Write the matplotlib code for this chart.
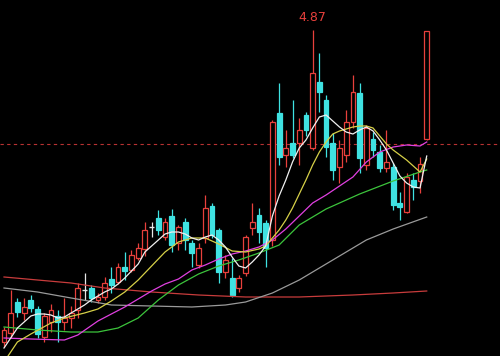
import matplotlib
matplotlib.use("Agg")
import matplotlib.pyplot as plt
import numpy as np

# ---------------- data (prices) ----------------
opens = [1.75, 1.84, 2.15, 2.04, 2.17, 2.08, 1.80, 1.95, 2.01, 1.95,
         1.99, 2.07, 2.27, 2.29, 2.17, 2.20, 2.38, 2.35, 2.50, 2.47,
         2.59, 2.68, 2.90, 2.99, 2.80, 3.01, 2.74, 2.95, 2.74, 2.52,
         2.79, 3.11, 2.87, 2.45, 2.39, 2.29, 2.44, 2.89, 3.02, 2.94,
         2.77, 4.04, 3.62, 3.74, 3.74, 4.02, 3.69, 4.35, 4.17, 3.74,
         3.50, 3.62, 3.95, 4.24, 3.52, 3.78, 3.65, 3.49, 3.50, 3.14,
         3.05, 3.37, 3.36, 3.78]
highs = [1.90, 2.27, 2.19, 2.19, 2.22, 2.11, 2.04, 2.13, 2.07, 2.19,
         2.11, 2.34, 2.44, 2.32, 2.24, 2.40, 2.50, 2.54, 2.65, 2.67,
         2.74, 2.95, 2.95, 3.07, 2.99, 3.08, 2.92, 2.99, 2.77, 2.74,
         3.22, 3.14, 2.89, 2.62, 2.59, 2.42, 2.82, 3.14, 3.09, 2.97,
         3.97, 4.34, 3.87, 4.17, 3.99, 4.05, 4.87, 4.64, 4.22, 3.84,
         3.77, 4.07, 4.42, 4.34, 3.92, 3.85, 3.72, 3.87, 3.54, 3.25,
         3.44, 3.44, 3.60, 4.86]
lows = [1.70, 1.79, 2.00, 1.97, 2.05, 1.79, 1.75, 1.85, 1.75, 1.87,
        1.89, 1.99, 2.17, 2.15, 2.14, 2.17, 2.24, 2.33, 2.37, 2.45,
        2.57, 2.61, 2.80, 2.82, 2.77, 2.65, 2.67, 2.67, 2.50, 2.49,
        2.74, 2.79, 2.34, 2.39, 2.20, 2.25, 2.41, 2.82, 2.74, 2.50,
        2.71, 3.52, 3.50, 3.59, 3.52, 3.81, 3.67, 4.05, 3.60, 3.37,
        3.34, 3.55, 3.89, 3.44, 3.47, 3.60, 3.45, 3.45, 3.07, 2.97,
        3.04, 3.17, 3.24, 3.77]
closes = [1.87, 2.04, 2.05, 2.10, 2.09, 1.83, 2.01, 2.07, 1.95, 1.99,
          2.04, 2.29, 2.27, 2.19, 2.20, 2.34, 2.32, 2.50, 2.46, 2.62,
          2.69, 2.87, 2.90, 2.87, 2.95, 2.72, 2.90, 2.77, 2.64, 2.69,
          3.09, 2.82, 2.45, 2.57, 2.22, 2.39, 2.80, 2.95, 2.85, 2.69,
          3.95, 3.60, 3.69, 3.62, 3.87, 3.87, 4.44, 4.25, 3.70, 3.47,
          3.69, 3.95, 4.25, 3.59, 3.89, 3.67, 3.49, 3.55, 3.12, 3.10,
          3.40, 3.30, 3.53, 4.86]

# moving-average lines (candle index, price)
ma5_idx = list(range(64))
ma5_val = [1.69, 1.79, 1.89, 1.95, 2.01, 2.03, 2.03, 2.02, 1.99, 2.00,
           2.04, 2.08, 2.12, 2.17, 2.21, 2.25, 2.28, 2.33, 2.39, 2.46,
           2.53, 2.65, 2.71, 2.77, 2.83, 2.85, 2.85, 2.83, 2.79, 2.77,
           2.80, 2.82, 2.77, 2.70, 2.60, 2.51, 2.49, 2.55, 2.62, 2.71,
           3.01, 3.21, 3.37, 3.55, 3.69, 3.77, 3.89, 4.00, 4.02, 3.96,
           3.90, 3.85, 3.83, 3.87, 3.90, 3.86, 3.77, 3.67, 3.54, 3.41,
           3.34, 3.30, 3.29, 3.61]
ma10_idx = [0, 2, 4, 7, 9, 12, 14, 16, 18, 20, 22, 24, 26, 28, 30, 32, 34, 36,
            38, 39, 40, 41, 42, 43, 44, 45, 46, 47, 48, 49, 50, 51, 52, 53,
            54, 55, 56, 57, 58, 59, 60, 61, 62, 63]
ma10_val = [1.55, 1.75, 1.83, 1.94, 1.99, 2.04, 2.08, 2.16, 2.25, 2.37,
            2.51, 2.65, 2.75, 2.79, 2.79, 2.73, 2.66, 2.65, 2.68, 2.71,
            2.79, 2.87, 2.97, 3.09, 3.23, 3.37, 3.52, 3.65, 3.75, 3.83,
            3.86, 3.88, 3.90, 3.91, 3.91, 3.89, 3.81, 3.73, 3.67, 3.62,
            3.57, 3.51, 3.45, 3.58]
ma20_idx = [0, 4, 9, 11, 14, 16, 18, 20, 22, 24, 26, 28, 30, 32, 34, 36, 38,
            40, 42, 44, 46, 48, 50, 52, 54, 56, 58, 60, 62, 63]
ma20_val = [1.79, 1.78, 1.77, 1.82, 1.96, 2.03, 2.10, 2.18, 2.26, 2.33,
            2.38, 2.47, 2.52, 2.58, 2.63, 2.66, 2.70, 2.77, 2.88, 3.01,
            3.14, 3.22, 3.31, 3.40, 3.55, 3.65, 3.70, 3.72, 3.71, 3.75]
ma30_idx = [0, 5, 10, 14, 17, 20, 23, 26, 29, 32, 35, 38, 41, 44, 48, 53,
            58, 62, 63]
ma30_val = [1.90, 1.87, 1.85, 1.85, 1.89, 1.99, 2.17, 2.32, 2.43, 2.51,
            2.57, 2.64, 2.72, 2.92, 3.08, 3.23, 3.36, 3.45, 3.47]
ma60_idx = [0, 5, 10, 16, 22, 28, 33, 36, 40, 44, 48, 51, 54, 58, 63]
ma60_val = [2.29, 2.25, 2.19, 2.12, 2.11, 2.10, 2.12, 2.15, 2.24, 2.37,
            2.53, 2.65, 2.77, 2.88, 3.00]
ma120_idx = [0, 5, 10, 15, 22, 29, 36, 44, 52, 58, 63]
ma120_val = [2.40, 2.37, 2.34, 2.29, 2.25, 2.22, 2.20, 2.20, 2.22, 2.24, 2.26]

ref_price = 3.73
peak_label = "4.87"
peak_index = 46
peak_price = 4.87

# ---------------- style ----------------
UP = "#e8403c"
DOWN = "#3fe2e2"
DOJI = "#e6e6e6"

fig = plt.figure(figsize=(5.0, 3.56), dpi=100)
fig.patch.set_facecolor("black")
ax = fig.add_axes([0, 0, 1, 1])
ax.set_facecolor("black")

o = np.array(opens); h = np.array(highs); l = np.array(lows); c = np.array(closes)
x = np.arange(len(o))
w = 0.72

for i in range(len(o)):
    if c[i] > o[i]:
        col = UP
    elif c[i] < o[i]:
        col = DOWN
    else:
        col = DOJI
    top = max(o[i], c[i]); bot = min(o[i], c[i])
    ax.vlines(x[i], bot, l[i], color=col, lw=0.9, zorder=2)
    ax.vlines(x[i], top, h[i], color=col, lw=0.9, zorder=2)
    if col == UP:
        ax.bar(x[i], top - bot, width=w, bottom=bot, facecolor="black",
               edgecolor=col, linewidth=0.9, zorder=3)
    elif col == DOWN:
        ax.bar(x[i], top - bot, width=w, bottom=bot, facecolor=col,
               edgecolor=col, linewidth=0.9, zorder=3)
    else:
        ax.hlines(c[i], x[i] - w / 2, x[i] + w / 2, color=col, lw=1.0, zorder=3)

ax.axhline(ref_price, color="#b83232", lw=0.8, ls=(0, (3, 3)), zorder=1)

ax.plot(ma120_idx, ma120_val, color="#c83c3c", lw=0.9, zorder=4)
ax.plot(ma60_idx, ma60_val, color="#9a9a9a", lw=0.9, zorder=4)
ax.plot(ma30_idx, ma30_val, color="#3cc43c", lw=0.9, zorder=4)
ax.plot(ma20_idx, ma20_val, color="#e040e0", lw=0.9, zorder=4)
ax.plot(ma10_idx, ma10_val, color="#d6d048", lw=0.9, zorder=4)
ax.plot(ma5_idx, ma5_val, color="#f0f0f0", lw=0.9, zorder=5)

ax.annotate(peak_label, xy=(peak_index, peak_price), xytext=(0, 4),
            textcoords="offset points", ha="center", va="bottom",
            color="#e8403c", fontsize=9)

ax.set_xlim(-0.596, 73.92)
ax.set_ylim(1.61, 5.17)
ax.axis("off")

fig.savefig("out.png", dpi=100, facecolor="black")
